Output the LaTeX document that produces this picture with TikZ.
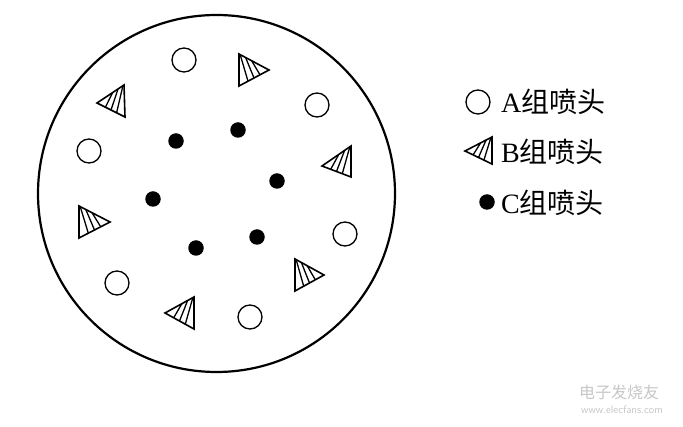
\documentclass[tikz,border=0pt]{standalone}
\usepackage{fontspec}
\setmainfont{Liberation Serif}
\newfontfamily\cjk{Noto Sans CJK SC}
\usetikzlibrary{calc}
\tikzset{
  outerring/.style={draw, line width=2.2pt},
  nozA/.style={circle, draw, line width=1.3pt, minimum size=24pt, inner sep=0pt},
  nozC/.style={circle, fill, minimum size=15.5pt, inner sep=0pt},
  tri/.style={draw, line width=1.6pt, line join=miter},
  hatch/.style={draw, line width=1.3pt},
  legendtext/.style={anchor=west, inner sep=0pt, font=\fontsize{28}{30}\selectfont},
  wmark/.style={text=black!22, inner sep=0pt}
}
% #1 apex, #2 upper base corner, #3 lower base corner
\newcommand\hatri[3]{%
  \draw[tri] (#1) -- (#2) -- (#3) -- cycle;
  \foreach \f/\g in {0.30/0.58,0.50/0.78,0.70/0.96}
    \draw[hatch] ($(#1)!\f!(#3)$) -- ($(#1)!\g!(#2)$);
}
\begin{document}
\begin{tikzpicture}[x=1pt,y=-1pt]
\useasboundingbox (0,0) rectangle (683,427);
\fill[white] (0,0) rectangle (683,427);

% outer ring
\node[circle, outerring, minimum size=357pt, inner sep=0pt] (ring) at (216.5,193.5) {};

% A group (open circles)
\node[nozA] (a1) at (184,60) {};
\node[nozA] (a2) at (317,105) {};
\node[nozA] (a3) at (89,151) {};
\node[nozA] (a4) at (345,234) {};
\node[nozA] (a5) at (117,283) {};
\node[nozA] (a6) at (250,317) {};

% B group (hatched triangles): apex, upper base corner, lower base corner
\hatri{269,70}{239,54}{239,86}
\hatri{97,103}{124,85}{125,117}
\hatri{322,166}{351,146}{351,177}
\hatri{110,222}{79,206}{79,238}
\hatri{324,275}{295,259}{295,291}
\hatri{165,313}{194,297}{194,329}

% C group (dots)
\node[nozC] (c1) at (176,141) {};
\node[nozC] (c2) at (238,130) {};
\node[nozC] (c3) at (277,181) {};
\node[nozC] (c4) at (153,199) {};
\node[nozC] (c5) at (196,248) {};
\node[nozC] (c6) at (257,237) {};

% legend
\node[nozA] (la) at (478,102) {};
\node[legendtext] (ta) at (501,102) {A{\cjk 组喷头}};
\hatri{465,151}{492,137}{492,164}
\node[legendtext] (tb) at (501,152) {B{\cjk 组喷头}};
\node[nozC] (lc) at (487,202) {};
\node[legendtext] (tc) at (501,203) {C{\cjk 组喷头}};

% watermark
\node[wmark, font=\cjk\fontsize{16}{18}\selectfont] (w1) at (619,392) {电子发烧友};
\node[wmark, font=\sffamily\fontsize{11}{12}\selectfont] (w2) at (622,410) {www.elecfans.com};
\end{tikzpicture}
\end{document}
